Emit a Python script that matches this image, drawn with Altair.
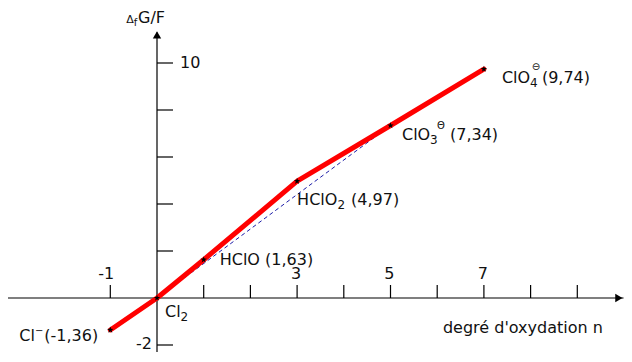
import altair as alt
import pandas as pd

# ---- data ----
n_vals = [-1, 0, 1, 3, 5, 7]
dG_vals = [-1.36, 0, 1.63, 4.97, 7.34, 9.74]
label_main = ["Cl", "Cl", "HClO (1,63)", "HClO", "ClO", "ClO"]
label_sub = ["", "2", "", "2", "3", "4"]
label_sup = ["−", "", "", "", "Θ", "⊖"]
label_val = ["(-1,36)", "", "", "(4,97)", "(7,34)", "(9,74)"]

dashed_n = [0, 5]
dashed_G = [0, 7.34]

x_ticks = [-1, 1, 2, 3, 4, 5, 6, 7, 8, 9]
x_tick_labels = ["-1", "3", "5", "7"]
x_tick_label_pos = [-1, 3, 5, 7]
y_ticks = [-2, 2, 4, 6, 8, 10]
y_tick_labels = ["10", "-2"]
y_tick_label_pos = [10, -2]

x_title = "degré d'oxydation  n"

# ---- layout / styling ----
W, H = 616, 344
PX_X, PX_Y = 46.7, 23.5
XMIN = -149 / PX_X
XMAX = XMIN + W / PX_X
YMAX = 290 / PX_Y
YMIN = YMAX - H / PX_Y
X_AXIS_END, X_ARROW = 9.99, 9.89
Y_AXIS_END, Y_ARROW = 11.3, 11.2
FONT = "DejaVu Sans"
FS = 16
FS_SUB = 12
FS_SUP = 10
TXT = "#111111"

# per-label part offsets in pixels from the point: (dx, dy) for main, sub, sup (center), value
part_pos = [
    {"main": (-91, 6), "sup": (-71, 1), "val": (-66, 6)},
    {"main": (8, 14), "sub": (23.5, 19)},
    {"main": (16, 0)},
    {"main": (0, 19), "sub": (40.5, 24), "val": (54, 19)},
    {"main": (11.5, 9.5), "sub": (39.5, 14.5), "sup": (50.5, 0.5), "val": (59.5, 9.5)},
    {"main": (18, 9), "sub": (46, 14), "sup": (52, -2), "val": (58, 9)},
]

STAR = "M0,-1L0.24,-0.33L0.95,-0.31L0.38,0.12L0.59,0.81L0,0.4L-0.59,0.81L-0.38,0.12L-0.95,-0.31L-0.24,-0.33Z"

xs = alt.Scale(domain=[XMIN, XMAX], nice=False, zero=False)
ys = alt.Scale(domain=[YMIN, YMAX], nice=False, zero=False)


def X(f):
    return alt.X(f, type="quantitative", scale=xs, axis=None)


def Y(f):
    return alt.Y(f, type="quantitative", scale=ys, axis=None)


frost = pd.DataFrame({"n": n_vals, "G": dG_vals, "main": label_main, "sub": label_sub,
                      "sup": label_sup, "val": label_val})
dashed = pd.DataFrame({"n": dashed_n, "G": dashed_G})

layers = []

# axis lines
xaxis = pd.DataFrame({"x": [XMIN], "x2": [X_AXIS_END], "y": [0]})
yaxis = pd.DataFrame({"y": [YMIN], "y2": [Y_AXIS_END], "x": [0]})
layers.append(alt.Chart(xaxis).mark_rule(color="black", strokeWidth=1.2).encode(
    x=X("x"), x2=alt.X2("x2"), y=Y("y")))
layers.append(alt.Chart(yaxis).mark_rule(color="black", strokeWidth=1.2).encode(
    y=Y("y"), y2=alt.Y2("y2"), x=X("x")))

# arrows
layers.append(alt.Chart(pd.DataFrame({"x": [X_ARROW], "y": [0]})).mark_point(
    shape="triangle-right", filled=True, color="black", size=70, opacity=1).encode(x=X("x"), y=Y("y")))
layers.append(alt.Chart(pd.DataFrame({"x": [0], "y": [Y_ARROW]})).mark_point(
    shape="triangle-up", filled=True, color="black", size=70, opacity=1).encode(x=X("x"), y=Y("y")))

# ticks
yt = pd.DataFrame({"y": y_ticks, "x": [0] * len(y_ticks)})
layers.append(alt.Chart(yt).mark_rule(color="black", strokeWidth=1.2, x2Offset=16).encode(
    x=X("x"), x2=alt.X2("x"), y=Y("y")))
xt = pd.DataFrame({"x": x_ticks, "y": [0] * len(x_ticks)})
layers.append(alt.Chart(xt).mark_rule(color="black", strokeWidth=1.2, y2Offset=-13).encode(
    y=Y("y"), y2=alt.Y2("y"), x=X("x")))

# tick labels
xtl = pd.DataFrame({"x": x_tick_label_pos, "y": [0] * len(x_tick_label_pos), "t": x_tick_labels})
layers.append(alt.Chart(xtl).mark_text(font=FONT, fontSize=FS, color=TXT, align="right",
                                       baseline="middle", dx=4, dy=-24).encode(
    x=X("x"), y=Y("y"), text="t:N"))
ytl = pd.DataFrame({"y": y_tick_label_pos, "x": [0] * len(y_tick_label_pos), "t": y_tick_labels})
layers.append(alt.Chart(ytl.iloc[[0]]).mark_text(font=FONT, fontSize=FS, color=TXT, align="left",
                                                 baseline="middle", dx=23).encode(
    x=X("x"), y=Y("y"), text="t:N"))
layers.append(alt.Chart(ytl.iloc[[1]]).mark_text(font=FONT, fontSize=FS, color=TXT, align="right",
                                                 baseline="middle", dx=-5, dy=-1).encode(
    x=X("x"), y=Y("y"), text="t:N"))

# axis titles
layers.append(alt.Chart(pd.DataFrame({"x": [X_ARROW], "y": [0], "t": [x_title]})).mark_text(
    font=FONT, fontSize=FS, color=TXT, align="right", baseline="middle", dx=-16, dy=30).encode(
    x=X("x"), y=Y("y"), text="t:N"))
ytitle = pd.DataFrame({"x": [0], "y": [Y_ARROW]})
layers.append(alt.Chart(ytitle).mark_text(font=FONT, fontSize=11, color=TXT, align="center",
                                          baseline="alphabetic", dx=-27, dy=-12, text="Δ").encode(
    x=X("x"), y=Y("y")))
layers.append(alt.Chart(ytitle).mark_text(font=FONT, fontSize=10, color=TXT, align="center",
                                          baseline="alphabetic", dx=-21.5, dy=-9, text="f").encode(
    x=X("x"), y=Y("y")))
layers.append(alt.Chart(ytitle).mark_text(font=FONT, fontSize=FS, color=TXT, align="left",
                                          baseline="alphabetic", dx=-19, dy=-12, text="G/F").encode(
    x=X("x"), y=Y("y")))

# dashed blue line and red Frost line
layers.append(alt.Chart(dashed).mark_line(color="#1c1ca8", strokeWidth=1, strokeDash=[4, 3]).encode(
    x=X("n"), y=Y("G")))
layers.append(alt.Chart(frost).mark_line(color="#ff0000", strokeWidth=5, strokeJoin="round",
                                         strokeCap="round").encode(
    x=X("n"), y=Y("G"), order="n:Q"))
layers.append(alt.Chart(frost).mark_point(shape=STAR, filled=True, color="black", size=45,
                                          opacity=1).encode(x=X("n"), y=Y("G")))

# point labels (main text, subscript, superscript, value)
part_font = {"main": FS, "sub": FS_SUB, "sup": FS_SUP, "val": FS}
for i, parts in enumerate(part_pos):
    row = frost.iloc[[i]]
    for key, (dx, dy) in parts.items():
        layers.append(alt.Chart(row).mark_text(
            font=FONT, fontSize=part_font[key], color=TXT,
            align="center" if key == "sup" else "left",
            baseline="middle", dx=dx, dy=dy).encode(
            x=X("n"), y=Y("G"), text=f"{key}:N"))

chart = alt.layer(*layers).properties(
    width=W, height=H, padding=0, autosize=alt.AutoSizeParams(type="none"), background="white"
).configure_view(stroke=None)

chart.save("out.html", embed_options={"renderer": "svg", "actions": False})
